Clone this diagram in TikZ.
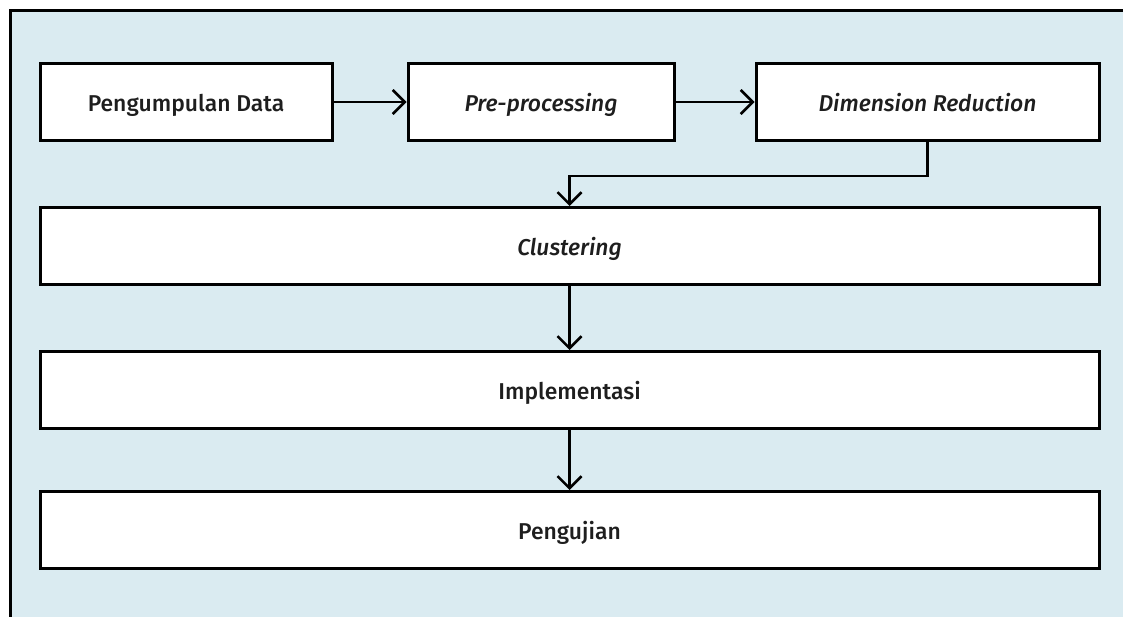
\documentclass[tikz,border=0pt]{standalone}
\usepackage{fontspec}
\setmainfont{Fira Sans}[UprightFont={* Medium}, ItalicFont={* Medium Italic}]
\usetikzlibrary{arrows.meta}
\definecolor{panelblue}{RGB}{218,235,241}
\definecolor{txt}{RGB}{30,30,30}
\tikzset{
  stepbox/.style={draw=black, line width=3pt, fill=white, minimum height=77pt, inner sep=0pt,
    text height=19pt, text depth=0pt,
    font=\fontsize{22.9}{25}\selectfont, text=txt},
  arr/.style={draw=black, line width=2.5pt, -{Straight Barb[length=12pt,width=24pt]}}
}
\begin{document}
\begin{tikzpicture}[x=1pt,y=-1pt]
\useasboundingbox (0,0) rectangle (1123,617);
\fill[panelblue] (10,11) rectangle (1123,617);
\draw[line width=3pt] (10,617) -- (10,11) -- (1123,11);

\node[stepbox, minimum width=292pt] (pd) at (186,102) {Pengumpulan Data};
\node[stepbox, minimum width=266pt] (pp) at (541,102) {\itshape Pre-processing};
\node[stepbox, minimum width=343pt] (dr) at (927.5,102) {\itshape Dimension Reduction};
\node[stepbox, minimum width=1059pt] (cl) at (569.5,246) {\itshape Clustering};
\node[stepbox, minimum width=1059pt] (im) at (569.5,390) {Implementasi};
\node[stepbox, minimum width=1059pt] (pg) at (569.5,530) {Pengujian};

\draw[arr] (pd) -- (pp);
\draw[arr] (pp) -- (dr);
\draw[arr] (dr.south) -- ++(0,34) -| (cl.north);
\draw[arr] (cl) -- (im);
\draw[arr] (im) -- (pg);
\end{tikzpicture}
\end{document}
